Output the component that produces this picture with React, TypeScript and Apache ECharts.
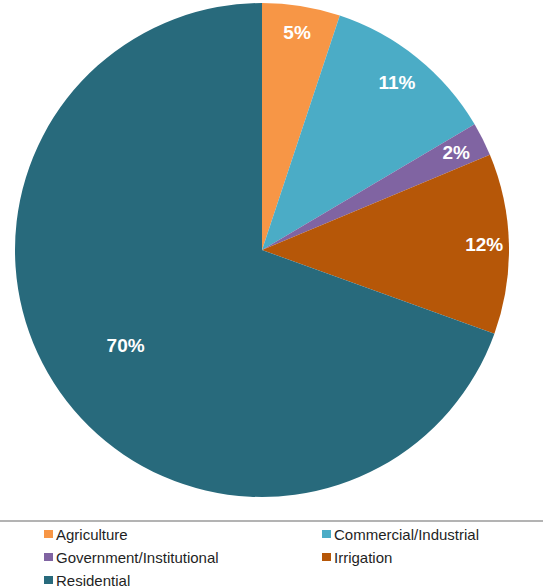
import React, { useEffect, useRef } from "react";
import * as echarts from "echarts";

const categories = [
  "Agriculture",
  "Commercial/Industrial",
  "Government/Institutional",
  "Irrigation",
  "Residential",
];
const values = [5.1, 11.4, 2.2, 11.8, 69.5];
const colors = ["#F79646", "#4BACC6", "#8064A2", "#B65708", "#286A7C"];

// label placement as fraction of radius (style)
const labelRadiusRatio = [0.89, 0.87, 0.88, 0.9, 0.675];

const CX = 262;
const CY = 250;
const R = 247;

export default function App() {
  const ref = useRef<HTMLDivElement>(null);
  useEffect(() => {
    if (!ref.current) return;
    const chart = echarts.init(ref.current, null, { renderer: "svg" });
    const total = values.reduce((a, b) => a + b, 0);
    const starts: number[] = [];
    let acc = 0;
    values.forEach((v) => {
      starts.push(acc);
      acc += v;
    });
    const legendText = {
      fontSize: 15,
      lineHeight: 16,
      color: "#1f1f1f",
      fontFamily: "Liberation Sans, Arial, sans-serif",
      padding: [0, 0, 0, -2],
    };
    // legend laid out in two columns, row-major order
    const legends = categories.map((name, i) => ({
      data: [name],
      orient: "horizontal",
      left: i % 2 === 0 ? 44 : 322,
      top: 526 + Math.floor(i / 2) * 23,
      padding: 0,
      itemWidth: 9,
      itemHeight: 8,
      icon: "rect",
      selectedMode: false,
      textStyle: legendText,
    }));
    chart.setOption({
      animation: false,
      backgroundColor: "#ffffff",
      color: colors,
      legend: legends,
      graphic: [
        {
          type: "line",
          shape: { x1: 0, y1: 521, x2: 543, y2: 521 },
          style: { stroke: "#9a9a9a", lineWidth: 1.5 },
        },
      ],
      series: [
        {
          type: "pie",
          center: [CX, CY],
          radius: R,
          startAngle: 90,
          clockwise: true,
          avoidLabelOverlap: false,
          itemStyle: { borderWidth: 0 },
          emphasis: { disabled: true },
          label: {
            show: true,
            position: "inside",
            formatter: (p: any) => Math.round(p.percent) + "%",
            color: "#ffffff",
            fontWeight: "bold",
            fontSize: 19,
            fontFamily: "Liberation Sans, Arial, sans-serif",
          },
          labelLine: { show: false },
          labelLayout: (p: any) => {
            const i = p.dataIndex;
            const mid = ((starts[i] + values[i] / 2) / total) * Math.PI * 2;
            const rr = R * labelRadiusRatio[i];
            return {
              x: CX + rr * Math.sin(mid),
              y: CY - rr * Math.cos(mid),
              align: "center",
              verticalAlign: "middle",
            };
          },
          data: categories.map((name, i) => ({ name, value: values[i] })),
        },
      ],
    });
    return () => chart.dispose();
  }, []);
  return (
    <div
      ref={ref}
      style={{ position: "absolute", left: 0, top: 0, width: 543, height: 587 }}
    />
  );
}
